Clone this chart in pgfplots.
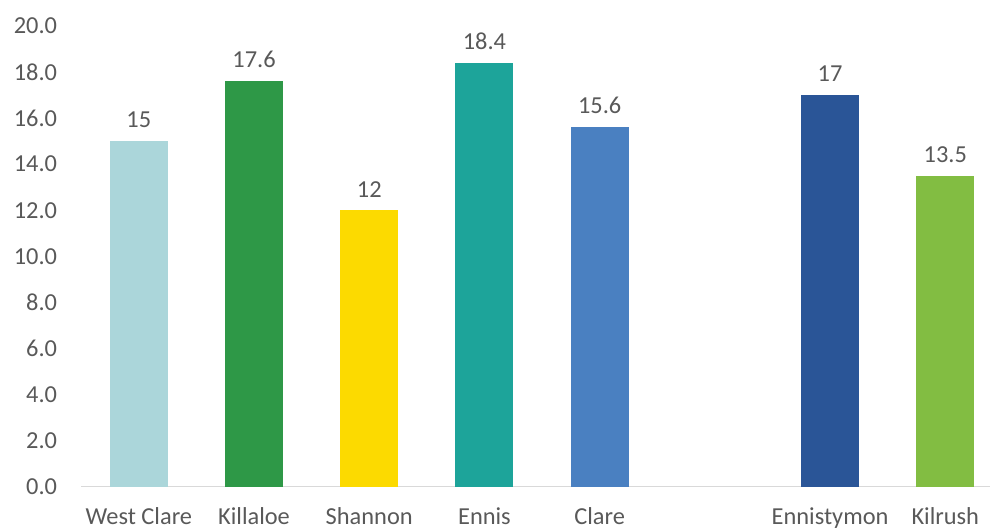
\documentclass[border=0pt]{standalone}
\usepackage{pgfplots}
\pgfplotsset{compat=1.18}
\usepackage{fontspec}
\setmainfont{Carlito}
\definecolor{labelgray}{HTML}{595959}
\definecolor{basegray}{HTML}{D9D9D9}
\definecolor{cWest}{HTML}{ABD6DA}
\definecolor{cKill}{HTML}{2E9847}
\definecolor{cShan}{HTML}{FCDA00}
\definecolor{cEnnis}{HTML}{1DA49A}
\definecolor{cClare}{HTML}{4A80C1}
\definecolor{cEnty}{HTML}{2A5597}
\definecolor{cKilr}{HTML}{82BD42}
\begin{document}
\begin{tikzpicture}
\path (-81.3bp,-44bp) rectangle (909.7bp,487bp);
\begin{axis}[
  at={(0,0)}, anchor=south west,
  scale only axis, width=909.7bp, height=461bp,
  xmin=-0.5, xmax=7.39, ymin=0, ymax=20,
  clip=false,
  /pgf/number format/assume math mode=true,
  ytick={0,2,...,20},
  yticklabel={\pgfmathprintnumber[fixed,fixed zerofill,precision=1]{\tick}},
  xtick={0,1,2,3,4,6,7},
  xticklabels={West Clare,Killaloe,Shannon,Ennis,Clare,Ennistymon,Kilrush},
  major tick length=0pt,
  axis x line*=bottom, axis y line*=left,
  x axis line style={draw=basegray, line width=1.6bp, -},
  y axis line style={draw=none},
  tick label style={font=\fontsize{24.5}{28}\selectfont, text=labelgray},
  yticklabel style={anchor=east, inner sep=0pt, xshift=-24bp},
  xticklabel style={anchor=base, inner sep=0pt, yshift=-38bp},
  ybar, bar width=58bp, bar shift=0pt,
  nodes near coords,
  every node near coord/.append style={font=\fontsize{24.5}{28}\selectfont, text=labelgray, anchor=south, inner sep=0pt, yshift=13bp},
]
\addplot[fill=cWest, draw=none] coordinates {(0,15)};
\addplot[fill=cKill, draw=none] coordinates {(1,17.6)};
\addplot[fill=cShan, draw=none] coordinates {(2,12)};
\addplot[fill=cEnnis, draw=none] coordinates {(3,18.4)};
\addplot[fill=cClare, draw=none] coordinates {(4,15.6)};
\addplot[fill=cEnty, draw=none] coordinates {(6,17)};
\addplot[fill=cKilr, draw=none] coordinates {(7,13.5)};
\end{axis}
\end{tikzpicture}
\end{document}
